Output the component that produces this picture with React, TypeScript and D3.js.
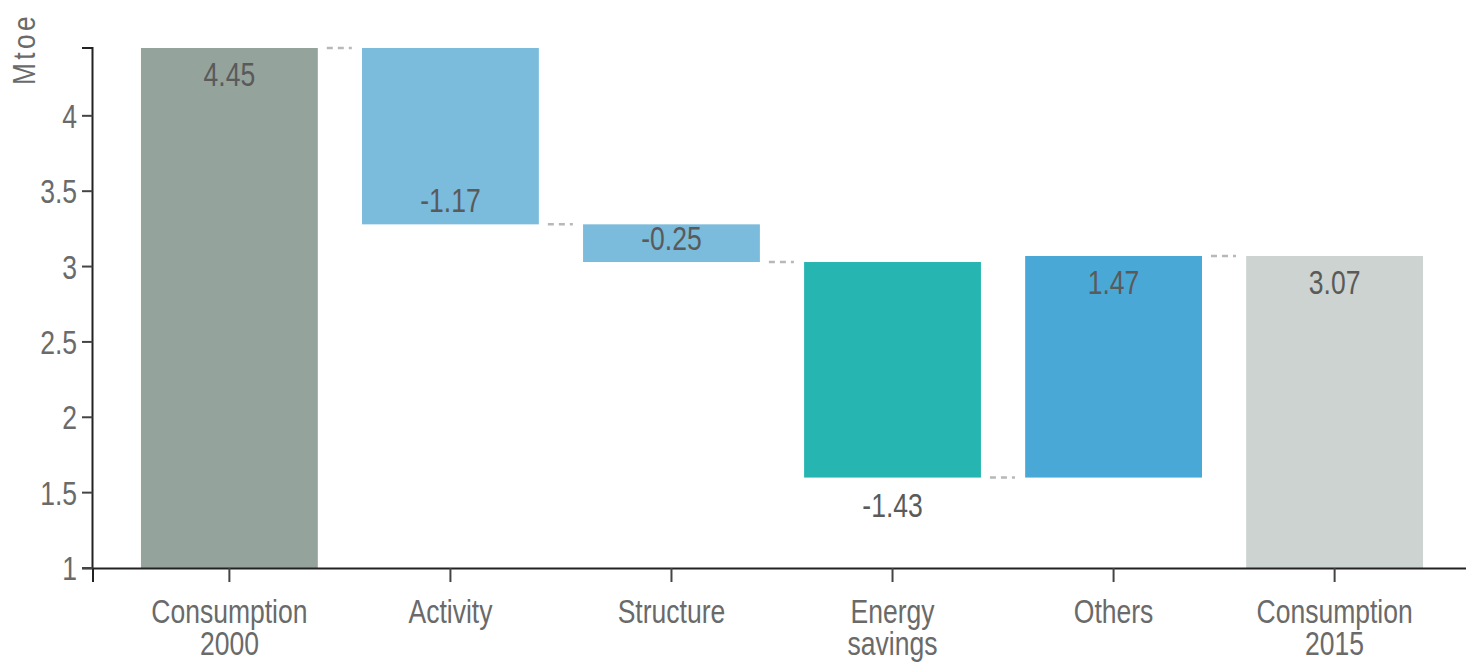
import React from 'react';
import * as d3 from 'd3';

const categories = ['Consumption 2000', 'Activity', 'Structure', 'Energy savings', 'Others', 'Consumption 2015'];
const values = [4.45, -1.17, -0.25, -1.43, 1.47, 3.07];
const kinds = ['total', 'delta', 'delta', 'delta', 'delta', 'total'];
const valueLabels = ['4.45', '-1.17', '-0.25', '-1.43', '1.47', '3.07'];
const labelPlacement = ['top', 'bottom', 'bottom', 'below', 'top', 'top'];
const colors = ['#95A39D', '#7BBBDC', '#7BBBDC', '#26B5B0', '#4AA8D6', '#CCD3D0'];
const yTicks = [1, 1.5, 2, 2.5, 3, 3.5, 4];
const yTickLabels = ['1', '1.5', '2', '2.5', '3', '3.5', '4'];
const yTitle = 'Mtoe';

const W = 1466;
const H = 662;
const FONT = "'Liberation Sans', Arial, sans-serif";
const FS = 34;
const SX = 0.78;

export default function App() {
  const x = d3.scaleBand<string>().domain(categories).range([93, 1471]).paddingInner(0.2).paddingOuter(0.217);
  const y = d3.scaleLinear().domain([1, 4.45]).range([568, 48]);

  let run = 0;
  const spans = values.map((v, i) => {
    let lo: number, hi: number, end: number;
    if (kinds[i] === 'total') {
      lo = 1; hi = v; end = v; run = v;
    } else {
      const s = run; const e = run + v; run = e;
      lo = Math.min(s, e); hi = Math.max(s, e); end = e;
    }
    return { lo, hi, end };
  });

  const T = (props: any) => {
    const { x: tx, y: ty, anchor, children, fill, size } = props;
    return (
      <text transform={`translate(${tx},${ty}) scale(${SX},1)`} textAnchor={anchor || 'middle'}
        fontFamily={FONT} fontSize={size || FS} fill={fill || '#666'}>{children}</text>
    );
  };

  return (
    <svg width={W} height={H} style={{ position: 'absolute', left: 0, top: 0, background: '#fff' }}>
      {categories.map((c, i) => {
        const s = spans[i];
        return (
          <rect key={c} x={x(c)!} width={x.bandwidth()} y={y(s.hi)} height={y(s.lo) - y(s.hi)} fill={colors[i]} />
        );
      })}
      {categories.slice(0, -1).map((c, i) => {
        const xr = x(c)! + x.bandwidth();
        const yy = y(spans[i].end);
        return (
          <line key={'c' + i} x1={xr + 9} x2={xr + 34} y1={yy} y2={yy} stroke="#b8b8b8" strokeWidth={2.5} strokeDasharray="6,5" />
        );
      })}
      {categories.map((c, i) => {
        const s = spans[i];
        const cx = x(c)! + x.bandwidth() / 2;
        const p = labelPlacement[i];
        let ty = 0;
        if (p === 'top') ty = y(s.hi) + 38;
        else if (p === 'bottom') ty = y(s.lo) - 12;
        else ty = y(s.lo) + 39;
        return <T key={'v' + i} x={cx} y={ty} fill="#5a5a5a">{valueLabels[i]}</T>;
      })}
      <path d={`M93,582V568.5H1471`} fill="none" stroke="#222" strokeWidth={2} />
      {categories.map((c, i) => {
        const cx = x(c)! + x.bandwidth() / 2;
        const lines = c.split(' ');
        return (
          <g key={'x' + i}>
            <line x1={cx} x2={cx} y1={568} y2={582} stroke="#444" strokeWidth={2} />
            {lines.map((l, k) => (
              <T key={k} x={cx} y={623 + k * 32} fill="#6a6a6a">{l}</T>
            ))}
          </g>
        );
      })}
      <path d={`M82,${y(4.45)}H92.5V568.5H82`} fill="none" stroke="#222" strokeWidth={2} />
      {yTicks.map((t, i) => (
        <g key={'y' + i}>
          <line x1={82} x2={92.5} y1={y(t)} y2={y(t)} stroke="#444" strokeWidth={2} />
          <T x={77} y={y(t) + 12} anchor="end" fill="#6a6a6a">{yTickLabels[i]}</T>
        </g>
      ))}
      <text transform={`translate(35,49) rotate(-90) scale(0.85,1)`} textAnchor="middle" fontFamily={FONT}
        fontSize={31} letterSpacing={4} fill="#6a6a6a">{yTitle}</text>
    </svg>
  );
}
